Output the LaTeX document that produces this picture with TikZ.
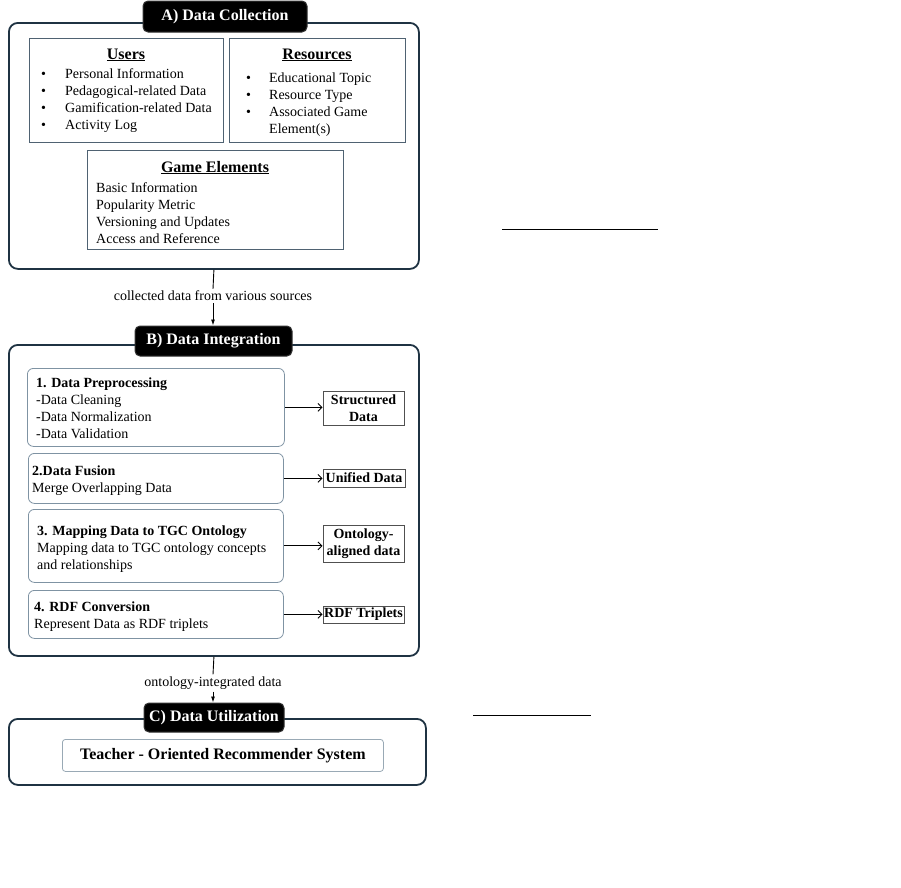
\documentclass[tikz,border=0pt]{standalone}
\usepackage{fontspec}
\setmainfont{Liberation Serif}
\usetikzlibrary{positioning,arrows.meta}
\definecolor{frameblue}{HTML}{1F3343}
\definecolor{slateline}{HTML}{4F6272}
\definecolor{stepline}{HTML}{7F93A3}
\definecolor{resultline}{HTML}{505050}
\begin{document}
\begin{tikzpicture}[x=1pt,y=-1pt,
    every node/.style={inner sep=0pt, font=\fontsize{14}{17}\selectfont},
    section/.style={draw=frameblue, line width=1.8pt, rounded corners=9pt, anchor=north west},
    heading/.style={fill=black, draw=black!80, line width=1pt, rounded corners=5pt, text=white,
        font=\fontsize{16}{19}\selectfont\bfseries},
    sourcebox/.style={draw=slateline, line width=1pt, anchor=north west},
    stepbox/.style={draw=stepline, line width=0.8pt, rounded corners=6pt, anchor=north west},
    result/.style={draw=resultline, line width=0.9pt, align=center, font=\fontsize{14}{17}\selectfont\bfseries},
    boxtitle/.style={anchor=base, font=\fontsize{16}{19}\selectfont\bfseries},
    listtext/.style={anchor=base west},
    flowlabel/.style={inner sep=2pt, fill=white},
    harr/.style={-{Straight Barb[length=4pt,width=8pt]}, line width=0.9pt},
    varr/.style={-{Latex[length=6pt,width=4pt]}, line width=0.9pt}]
\useasboundingbox (0,0) rectangle (901,887);

% A) data collection
\node[section, minimum width=410pt, minimum height=246pt] (colA) at (8,22) {};
\node[heading, minimum width=164pt, minimum height=31pt] (titA) at (225,16.5) {A) Data Collection};
\node[sourcebox, minimum width=194pt, minimum height=104pt] (users) at (29,38) {};
\node[sourcebox, minimum width=176pt, minimum height=104pt] (resources) at (229,38) {};
\node[sourcebox, minimum width=256pt, minimum height=99pt] (game) at (87,150) {};
\node[boxtitle] (usersT) at (126,59) {\underline{Users}};
\node[boxtitle] (resourcesT) at (317,59) {\underline{Resources}};
\node[boxtitle] (gameT) at (215,172) {\underline{Game Elements}};
\node[listtext] (usersL) at (41,78) {\begin{tabular}[t]{@{}p{24pt}@{}l@{}}
\textbullet & Personal Information\\
\textbullet & Pedagogical-related Data\\
\textbullet & Gamification-related Data\\
\textbullet & Activity Log
\end{tabular}};
\node[listtext] (resourcesL) at (246,82) {\begin{tabular}[t]{@{}p{23pt}@{}l@{}}
\textbullet & Educational Topic\\
\textbullet & Resource Type\\
\textbullet & Associated Game\\
 & Element(s)
\end{tabular}};
\node[listtext] (gameL) at (96,192) {\begin{tabular}[t]{@{}l@{}}
Basic Information\\
Popularity Metric\\
Versioning and Updates\\
Access and Reference
\end{tabular}};

\node[flowlabel] (lab1) at (213,296) {collected data from various sources};

% B) data integration
\node[section, minimum width=410pt, minimum height=311pt] (colB) at (8,344) {};
\node[heading, minimum width=157pt, minimum height=30pt] (titB) at (213.5,341) {B) Data Integration};

\node[stepbox, minimum width=257pt, minimum height=78pt] (prep) at (27,368) {};
\node[listtext] (prepT) at (36,387) {\begin{tabular}[t]{@{}l@{}}
\textbf{1. Data Preprocessing}\\
-Data Cleaning\\
-Data Normalization\\
-Data Validation
\end{tabular}};
\node[result, minimum width=81pt, minimum height=34pt] (struct) at (363.5,408) {Structured\\Data};

\node[stepbox, minimum width=255pt, minimum height=50pt] (fusion) at (28,453) {};
\node[listtext] (fusionT) at (32,475) {\begin{tabular}[t]{@{}l@{}}
\textbf{2.Data Fusion}\\
Merge Overlapping Data
\end{tabular}};
\node[result, minimum width=82pt, minimum height=18pt] (unified) at (364,478) {Unified Data};

\node[stepbox, minimum width=255pt, minimum height=73pt] (mapping) at (28,509) {};
\node[listtext] (mappingT) at (37,535) {\begin{tabular}[t]{@{}l@{}}
\textbf{3. Mapping Data to TGC Ontology}\\
Mapping data to TGC ontology concepts\\
and relationships
\end{tabular}};
\node[result, minimum width=81pt, minimum height=37pt] (aligned) at (363.5,543.5) {Ontology-\\aligned data};

\node[stepbox, minimum width=255pt, minimum height=48pt] (rdf) at (28,590) {};
\node[listtext] (rdfT) at (34,611.5) {\begin{tabular}[t]{@{}l@{}}
\textbf{4. RDF Conversion}\\
Represent Data as RDF triplets
\end{tabular}};
\node[result, minimum width=81pt, minimum height=17pt] (triplets) at (363.5,614.5) {RDF Triplets};

\node[flowlabel] (lab2) at (213,683) {ontology-integrated data};

% C) data utilization
\node[section, minimum width=417pt, minimum height=66pt] (colC) at (8,718) {};
\node[heading, minimum width=140pt, minimum height=29pt] (titC) at (214,717.5) {C) Data Utilization};
\node[stepbox, draw=stepline!80, rounded corners=3pt, minimum width=321pt, minimum height=32pt,
    font=\fontsize{16}{19}\selectfont\bfseries] (recsys) at (62,739) {Teacher - Oriented Recommender System};

% connectors
\draw[line width=0.9pt] (colA.south) -- (lab1.north);
\draw[varr] (lab1.south) -- (lab1.south |- titB.north);
\draw[harr] (prep.east) -- (prep.east -| struct.west);
\draw[harr] (fusion.east) -- (fusion.east -| unified.west);
\draw[harr] (mapping.east) -- (mapping.east -| aligned.west);
\draw[harr] (rdf.east) -- (rdf.east -| triplets.west);
\draw[line width=0.9pt] (colB.south) -- (lab2.north);
\draw[varr] (lab2.south) -- (lab2.south |- titC.north);

% rules on the right
\draw[line width=1pt] (502,229) -- (658,229);
\draw[line width=1pt] (473,715) -- (591,715);
\end{tikzpicture}
\end{document}
